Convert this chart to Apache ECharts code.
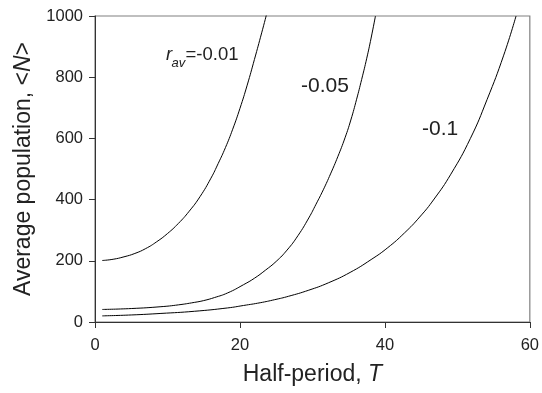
<!DOCTYPE html>
<html>
<head>
<meta charset="utf-8">
<script src="https://cdn.jsdelivr.net/npm/echarts@6/dist/echarts.min.js"></script>
<style>
html,body{margin:0;padding:0;background:#fff;}
#chart{width:542px;height:393px;}
</style>
</head>
<body>
<div id="chart"></div>
<script>
// Curve r_av = -0.01
const T1 = [1, 2.5, 4, 5.5, 7, 8.5, 10, 11.5, 13, 14.5, 16, 17, 18, 19, 20, 21, 22, 23, 23.7];
const N1 = [201, 205, 213, 224, 240, 262, 289, 322, 362, 410, 470, 518, 570, 630, 698, 774, 858, 945, 1008];
// Curve r_av = -0.05
const T2 = [1, 5, 9.1, 11.5, 13.7, 15, 16.5, 18.3, 20.5, 22, 23.5, 25, 26.5, 28, 29.5, 30.5, 31.5, 32.5, 33.5, 34.5, 35.3, 36.1, 36.8, 37.5, 38.1, 38.7];
const N2 = [41, 44, 50, 56, 64, 70, 80, 95, 122, 143, 169, 198, 235, 282, 340, 385, 432, 484, 540, 602, 660, 728, 793, 862, 928, 1000];
// Curve r_av = -0.1
const T3 = [1, 5, 9.1, 13.7, 18.3, 20.5, 22.8, 24.8, 26.7, 29.5, 32.2, 35.2, 38.1, 40.4, 42.7, 44.8, 46.8, 49.1, 51.8, 54.1, 56.4, 58.1];
const N3 = [20, 23, 28, 35, 46, 54, 63, 73, 84, 104, 128, 162, 204, 243, 291, 343, 402, 483, 600, 727, 872, 1000];
// Axis ticks
const xTicks = [0, 20, 40, 60];
const yTicks = [0, 200, 400, 600, 800, 1000];
const curveLabels = ['-0.01', '-0.05', '-0.1'];

const FONT = 'Liberation Sans, Arial, Helvetica, sans-serif';
const TXT = '#222';

function pairs(t, n) { return t.map((v, i) => [v, n[i]]); }

const chart = echarts.init(document.getElementById('chart'), null, {renderer: 'canvas'});

function lineSeries(t, n, name) {
  return {
    type: 'line', name: name, data: pairs(t, n),
    smooth: 0.5, showSymbol: false, symbol: 'none',
    lineStyle: {color: '#000', width: 1}, clip: true, silent: true
  };
}

chart.setOption({
  animation: false,
  backgroundColor: '#fff',
  grid: {left: 95, right: 9, top: 16, bottom: 71, show: true, borderColor: '#808080', borderWidth: 1.2, backgroundColor: 'transparent'},
  xAxis: {
    type: 'value', min: xTicks[0], max: xTicks[xTicks.length - 1], interval: 20,
    splitLine: {show: false},
    axisLine: {lineStyle: {color: '#333', width: 1}},
    axisTick: {length: 6, lineStyle: {color: '#333'}},
    axisLabel: {fontSize: 16.5, fontFamily: FONT, color: TXT, margin: 15, formatter: v => String(v)},
    name: '{a|Half-period, }{b|T}', nameLocation: 'middle', nameGap: 41,
    nameTextStyle: {fontSize: 23, fontFamily: FONT, color: TXT,
      rich: {a: {fontSize: 23, fontFamily: FONT, color: TXT}, b: {fontSize: 23, fontFamily: FONT, color: TXT, fontStyle: 'italic'}}}
  },
  yAxis: {
    type: 'value', min: yTicks[0], max: yTicks[yTicks.length - 1], interval: 200,
    splitLine: {show: false},
    axisLine: {show: true, lineStyle: {color: '#333', width: 1}},
    axisTick: {show: true, length: 6, lineStyle: {color: '#333'}},
    axisLabel: {fontSize: 16.5, fontFamily: FONT, color: TXT, margin: 12, formatter: v => String(v)},
    name: '{a|Average population, <}{b|N}{a|>}', nameLocation: 'middle', nameGap: 58,
    nameTextStyle: {fontSize: 23, fontFamily: FONT, color: TXT,
      rich: {a: {fontSize: 23, fontFamily: FONT, color: TXT}, b: {fontSize: 23, fontFamily: FONT, color: TXT, fontStyle: 'italic'}}}
  },
  series: [lineSeries(T1, N1, curveLabels[0]), lineSeries(T2, N2, curveLabels[1]), lineSeries(T3, N3, curveLabels[2])],
  graphic: [
    {type: 'text', x: 166, y: 55, style: {text: 'r', fontSize: 18.5, fontStyle: 'italic', fontFamily: FONT, fill: TXT, verticalAlign: 'middle'}},
    {type: 'text', x: 171.5, y: 63, style: {text: 'av', fontSize: 13, fontStyle: 'italic', fontFamily: FONT, fill: TXT, verticalAlign: 'middle'}},
    {type: 'text', x: 185.5, y: 55, style: {text: '=' + curveLabels[0], fontSize: 18.5, fontFamily: FONT, fill: TXT, verticalAlign: 'middle'}},
    {type: 'text', x: 301, y: 86, style: {text: curveLabels[1], fontSize: 21, fontFamily: FONT, fill: TXT, verticalAlign: 'middle'}},
    {type: 'text', x: 422, y: 129, style: {text: curveLabels[2], fontSize: 21, fontFamily: FONT, fill: TXT, verticalAlign: 'middle'}}
  ]
});
</script>
</body>
</html>
